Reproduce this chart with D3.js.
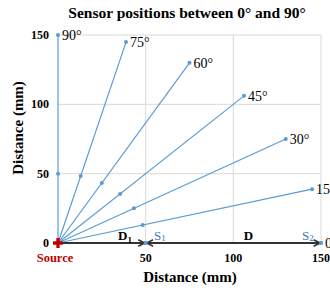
<!DOCTYPE html>
<html><head><meta charset="utf-8">
<script src="https://cdn.jsdelivr.net/npm/d3@7"></script>
<style>body{margin:0;background:#fff}svg{display:block}</style>
</head><body>
<svg id="c" width="330" height="291"></svg>
<script>
const angles = [0, 15, 30, 45, 60, 75, 90];
const angleLabels = ["0°", "15°", "30°", "45°", "60°", "75°", "90°"];
const endX = [150, 144.9, 129.9, 106.1, 75, 38.8, 0];
const endY = [0, 38.8, 75, 106.1, 129.9, 144.9, 150];
const midX = [50, 48.3, 43.3, 35.4, 25, 12.9, 0];
const midY = [0, 12.9, 25, 35.4, 43.3, 48.3, 50];
const xTicks = [0, 50, 100, 150];
const yTicks = [0, 50, 100, 150];
const gridVals = [50, 100, 150];
const segStart = [0, 50];
const segEnd = [50, 150];
const segLabels = ["D", "D"];

const svg = d3.select("#c");
const x = d3.scaleLinear().domain([0, 150]).range([58, 321]);
const y = d3.scaleLinear().domain([0, 150]).range([243, 35]);
const serif = "'Liberation Serif','Times New Roman',serif";
const blue = "#5b9bd5";

// grid
svg.append("g").selectAll("line.v").data(gridVals).join("line")
  .attr("x1", d => x(d)).attr("x2", d => x(d)).attr("y1", y(0)).attr("y2", y(150))
  .attr("stroke", "#d9d9d9").attr("stroke-width", 1);
svg.append("g").selectAll("line.h").data(gridVals).join("line")
  .attr("x1", x(0)).attr("x2", x(150)).attr("y1", d => y(d)).attr("y2", d => y(d))
  .attr("stroke", "#d9d9d9").attr("stroke-width", 1);

// title
svg.append("text").attr("x", 187).attr("y", 18).attr("text-anchor", "middle")
  .attr("font-family", serif).attr("font-weight", "bold").attr("font-size", 15.5)
  .text("Sensor positions between 0° and 90°");

// tick labels
svg.append("g").selectAll("text").data(yTicks).join("text")
  .attr("x", 49).attr("y", d => y(d) + 4).attr("text-anchor", "end")
  .attr("font-family", serif).attr("font-weight", "bold").attr("font-size", 12)
  .text(d => d);
svg.append("g").selectAll("text").data(xTicks.slice(1)).join("text")
  .attr("x", d => x(d)).attr("y", 262).attr("text-anchor", "middle")
  .attr("font-family", serif).attr("font-weight", "bold").attr("font-size", 12)
  .text(d => d);

// axis titles
svg.append("text").attr("x", 190).attr("y", 282).attr("text-anchor", "middle")
  .attr("font-family", serif).attr("font-weight", "bold").attr("font-size", 15)
  .text("Distance (mm)");
svg.append("text").attr("transform", "translate(23,128) rotate(-90)").attr("text-anchor", "middle")
  .attr("font-family", serif).attr("font-weight", "bold").attr("font-size", 15)
  .text("Distance (mm)");

// rays
const rays = svg.append("g");
angles.forEach((a, i) => {
  rays.append("line").attr("x1", x(0)).attr("y1", y(0)).attr("x2", x(endX[i])).attr("y2", y(endY[i]))
    .attr("stroke", blue).attr("stroke-width", 1.2);
});
rays.selectAll("circle.e").data(angles).join("circle").attr("class", "e")
  .attr("cx", (d, i) => x(endX[i])).attr("cy", (d, i) => y(endY[i])).attr("r", 2).attr("fill", blue);
svg.append("g").selectAll("circle").data(angles).join("circle")
  .attr("cx", (d, i) => x(midX[i])).attr("cy", (d, i) => y(midY[i])).attr("r", 2).attr("fill", blue);
svg.append("g").selectAll("text").data(angles).join("text")
  .attr("x", (d, i) => x(endX[i]) + 4).attr("y", (d, i) => y(endY[i]) + 5)
  .attr("font-family", serif).attr("font-size", 14)
  .text((d, i) => angleLabels[i]);

// arrows
const defs = svg.append("defs");
["end", "start"].forEach(k => {
  defs.append("marker").attr("id", "arr-" + k).attr("viewBox", "0 0 10 10")
    .attr("refX", 9).attr("refY", 5).attr("markerWidth", 4).attr("markerHeight", 4)
    .attr("orient", "auto-start-reverse")
    .append("path").attr("d", "M1,1 L9,5 L1,9").attr("fill", "none").attr("stroke", "#333").attr("stroke-width", 2);
});
svg.append("g").selectAll("line").data(segStart).join("line")
  .attr("x1", (d) => x(d) + 1).attr("x2", (d, i) => x(segEnd[i]) - 1)
  .attr("y1", y(0)).attr("y2", y(0))
  .attr("stroke", "#333").attr("stroke-width", 2)
  .attr("marker-end", "url(#arr-end)")
  .attr("marker-start", (d, i) => i === 1 ? "url(#arr-start)" : null);

// sensor dots on axis
svg.append("circle").attr("cx", x(50)).attr("cy", y(0)).attr("r", 2).attr("fill", blue);
svg.append("circle").attr("cx", x(150)).attr("cy", y(0)).attr("r", 2).attr("fill", blue);

// segment labels
const d1 = svg.append("text").attr("x", x(segStart[0]) + 60).attr("y", 240)
  .attr("font-family", serif).attr("font-weight", "bold").attr("font-size", 13);
d1.append("tspan").text(segLabels[0]);
d1.append("tspan").attr("font-size", 9).attr("dy", 3).text("1");
svg.append("text").attr("x", x(segStart[1]) + 98).attr("y", 240)
  .attr("font-family", serif).attr("font-weight", "bold").attr("font-size", 13).text(segLabels[1]);

const s1 = svg.append("text").attr("x", 154).attr("y", 240)
  .attr("font-family", serif).attr("font-size", 13).attr("fill", "#4472c4");
s1.append("tspan").text("S");
s1.append("tspan").attr("font-size", 9).attr("dy", 1).text("1");
const s2 = svg.append("text").attr("x", 302).attr("y", 240)
  .attr("font-family", serif).attr("font-size", 13).attr("fill", "#4472c4");
s2.append("tspan").text("S");
s2.append("tspan").attr("font-size", 9).attr("dy", 1).text("2");

// source
svg.append("path").attr("d", d3.symbol().type(d3.symbolCross).size(55)())
  .attr("transform", `translate(${x(0)},${y(0)})`).attr("fill", "#c00000");
svg.append("text").attr("x", 55).attr("y", 262).attr("text-anchor", "middle")
  .attr("font-family", serif).attr("font-weight", "bold").attr("font-size", 12.5)
  .attr("fill", "#c00000").text("Source");
</script>
</body></html>
